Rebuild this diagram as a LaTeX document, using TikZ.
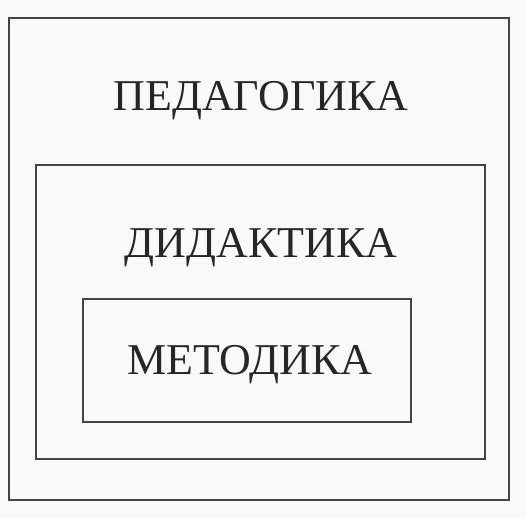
\documentclass[tikz,border=0pt]{standalone}
\usepackage{fontspec}
\setmainfont{Liberation Serif}
\definecolor{linegray}{HTML}{444444}
\definecolor{paper}{HTML}{F9F9F9}
\tikzset{
  box/.style={draw=linegray, line width=1.8pt, fill=paper, inner sep=0pt},
  title/.style={anchor=base, text=black!85, font=\fontsize{44}{44}\selectfont, inner sep=0pt}
}
\begin{document}
\begin{tikzpicture}[x=1pt, y=1pt]
\useasboundingbox[fill=paper] (0,0) rectangle (526,518);
\node[box, minimum width=500pt, minimum height=482pt] (ped) at (259,259) {};
\node[box, minimum width=449pt, minimum height=294pt] (did) at (260.5,206) {};
\node[box, minimum width=328pt, minimum height=123pt] (met) at (247,157.5) {};
\node[title] (pedtext) at (261,407) {ПЕДАГОГИКА};
\node[title] (didtext) at (261,260) {ДИДАКТИКА};
\node[title] (mettext) at (250,143) {МЕТОДИКА};
\end{tikzpicture}
\end{document}
